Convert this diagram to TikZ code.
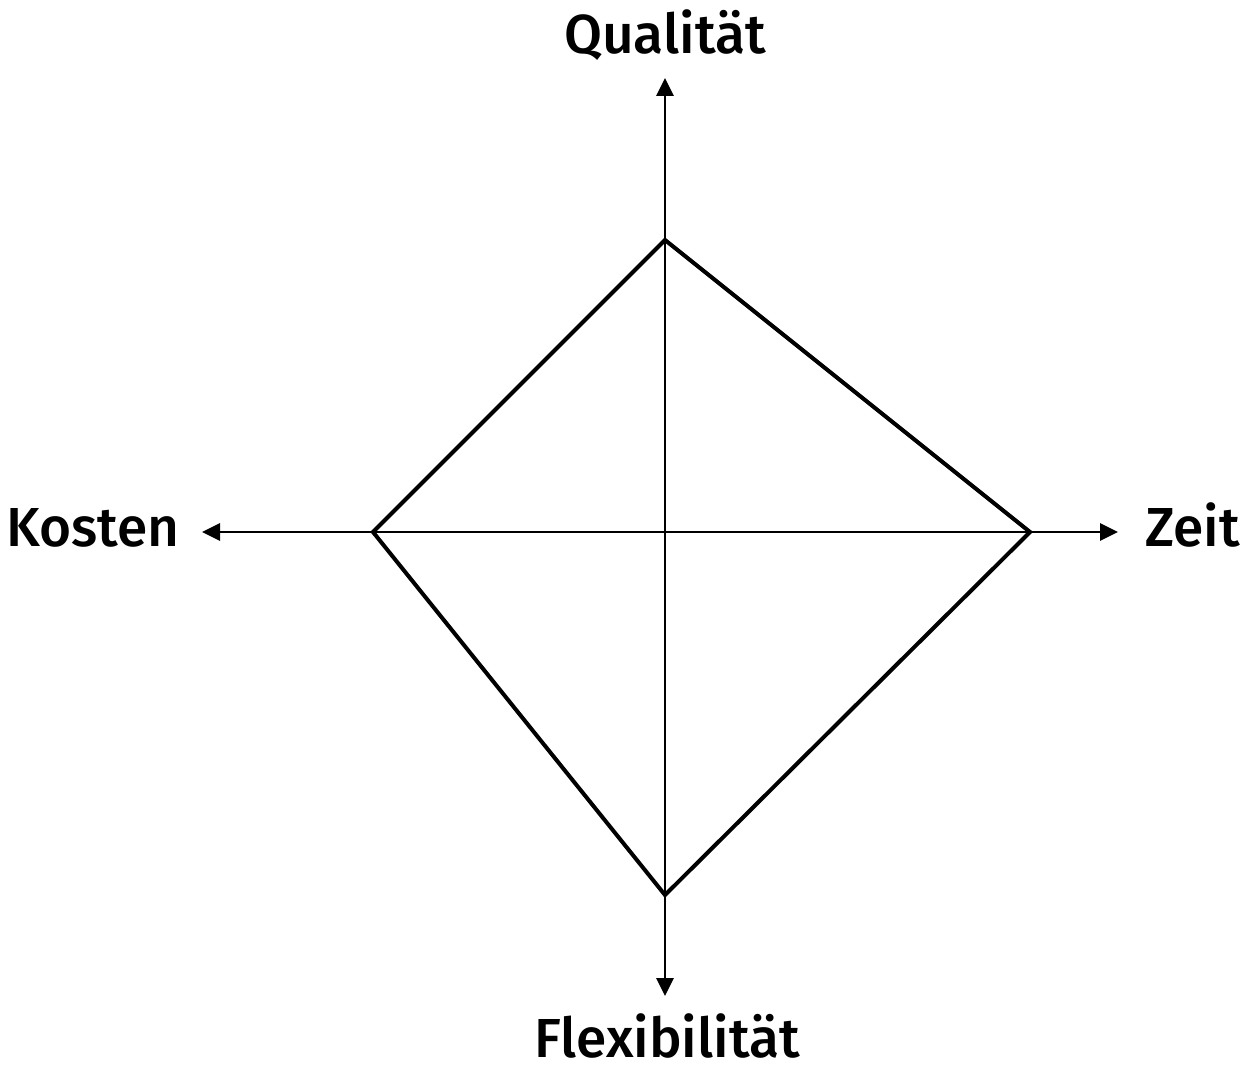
\documentclass[tikz,border=0pt]{standalone}
\usepackage{fontspec}
\setmainfont{Fira Sans Medium}
\usetikzlibrary{arrows.meta}
\begin{document}
\begin{tikzpicture}[x=0.5pt,y=-0.5pt,
  axis/.style={line width=1.4pt,-{Triangle[length=9pt,width=8.5pt]}},
  diam/.style={line width=2pt,line join=miter},
  lab/.style={font=\fontsize{27.5}{32}\selectfont,inner sep=0pt}]
\useasboundingbox (0,0) rectangle (1245,1065);
\coordinate (c) at (665,532);
\coordinate (qt) at (665,78);
\coordinate (ft) at (665,996);
\coordinate (kt) at (202,532);
\coordinate (zt) at (1118,532);
\coordinate (dt) at (665,240);
\coordinate (dr) at (1030,532);
\coordinate (db) at (665,895);
\coordinate (dl) at (373,532);
\draw[axis] (c) -- (qt);
\draw[axis] (c) -- (ft);
\draw[axis] (c) -- (kt);
\draw[axis] (c) -- (zt);
\draw[diam] (dt) -- (dr) -- (db) -- (dl) -- cycle;
\node[lab,anchor=base] (q) at (665,54) {Qualität};
\node[lab,anchor=base] (f) at (667,1057) {Flexibilität};
\node[lab,anchor=base east] (k) at (180,546) {Kosten};
\node[lab,anchor=base west] (z) at (1145,546) {Zeit};
\end{tikzpicture}
\end{document}
